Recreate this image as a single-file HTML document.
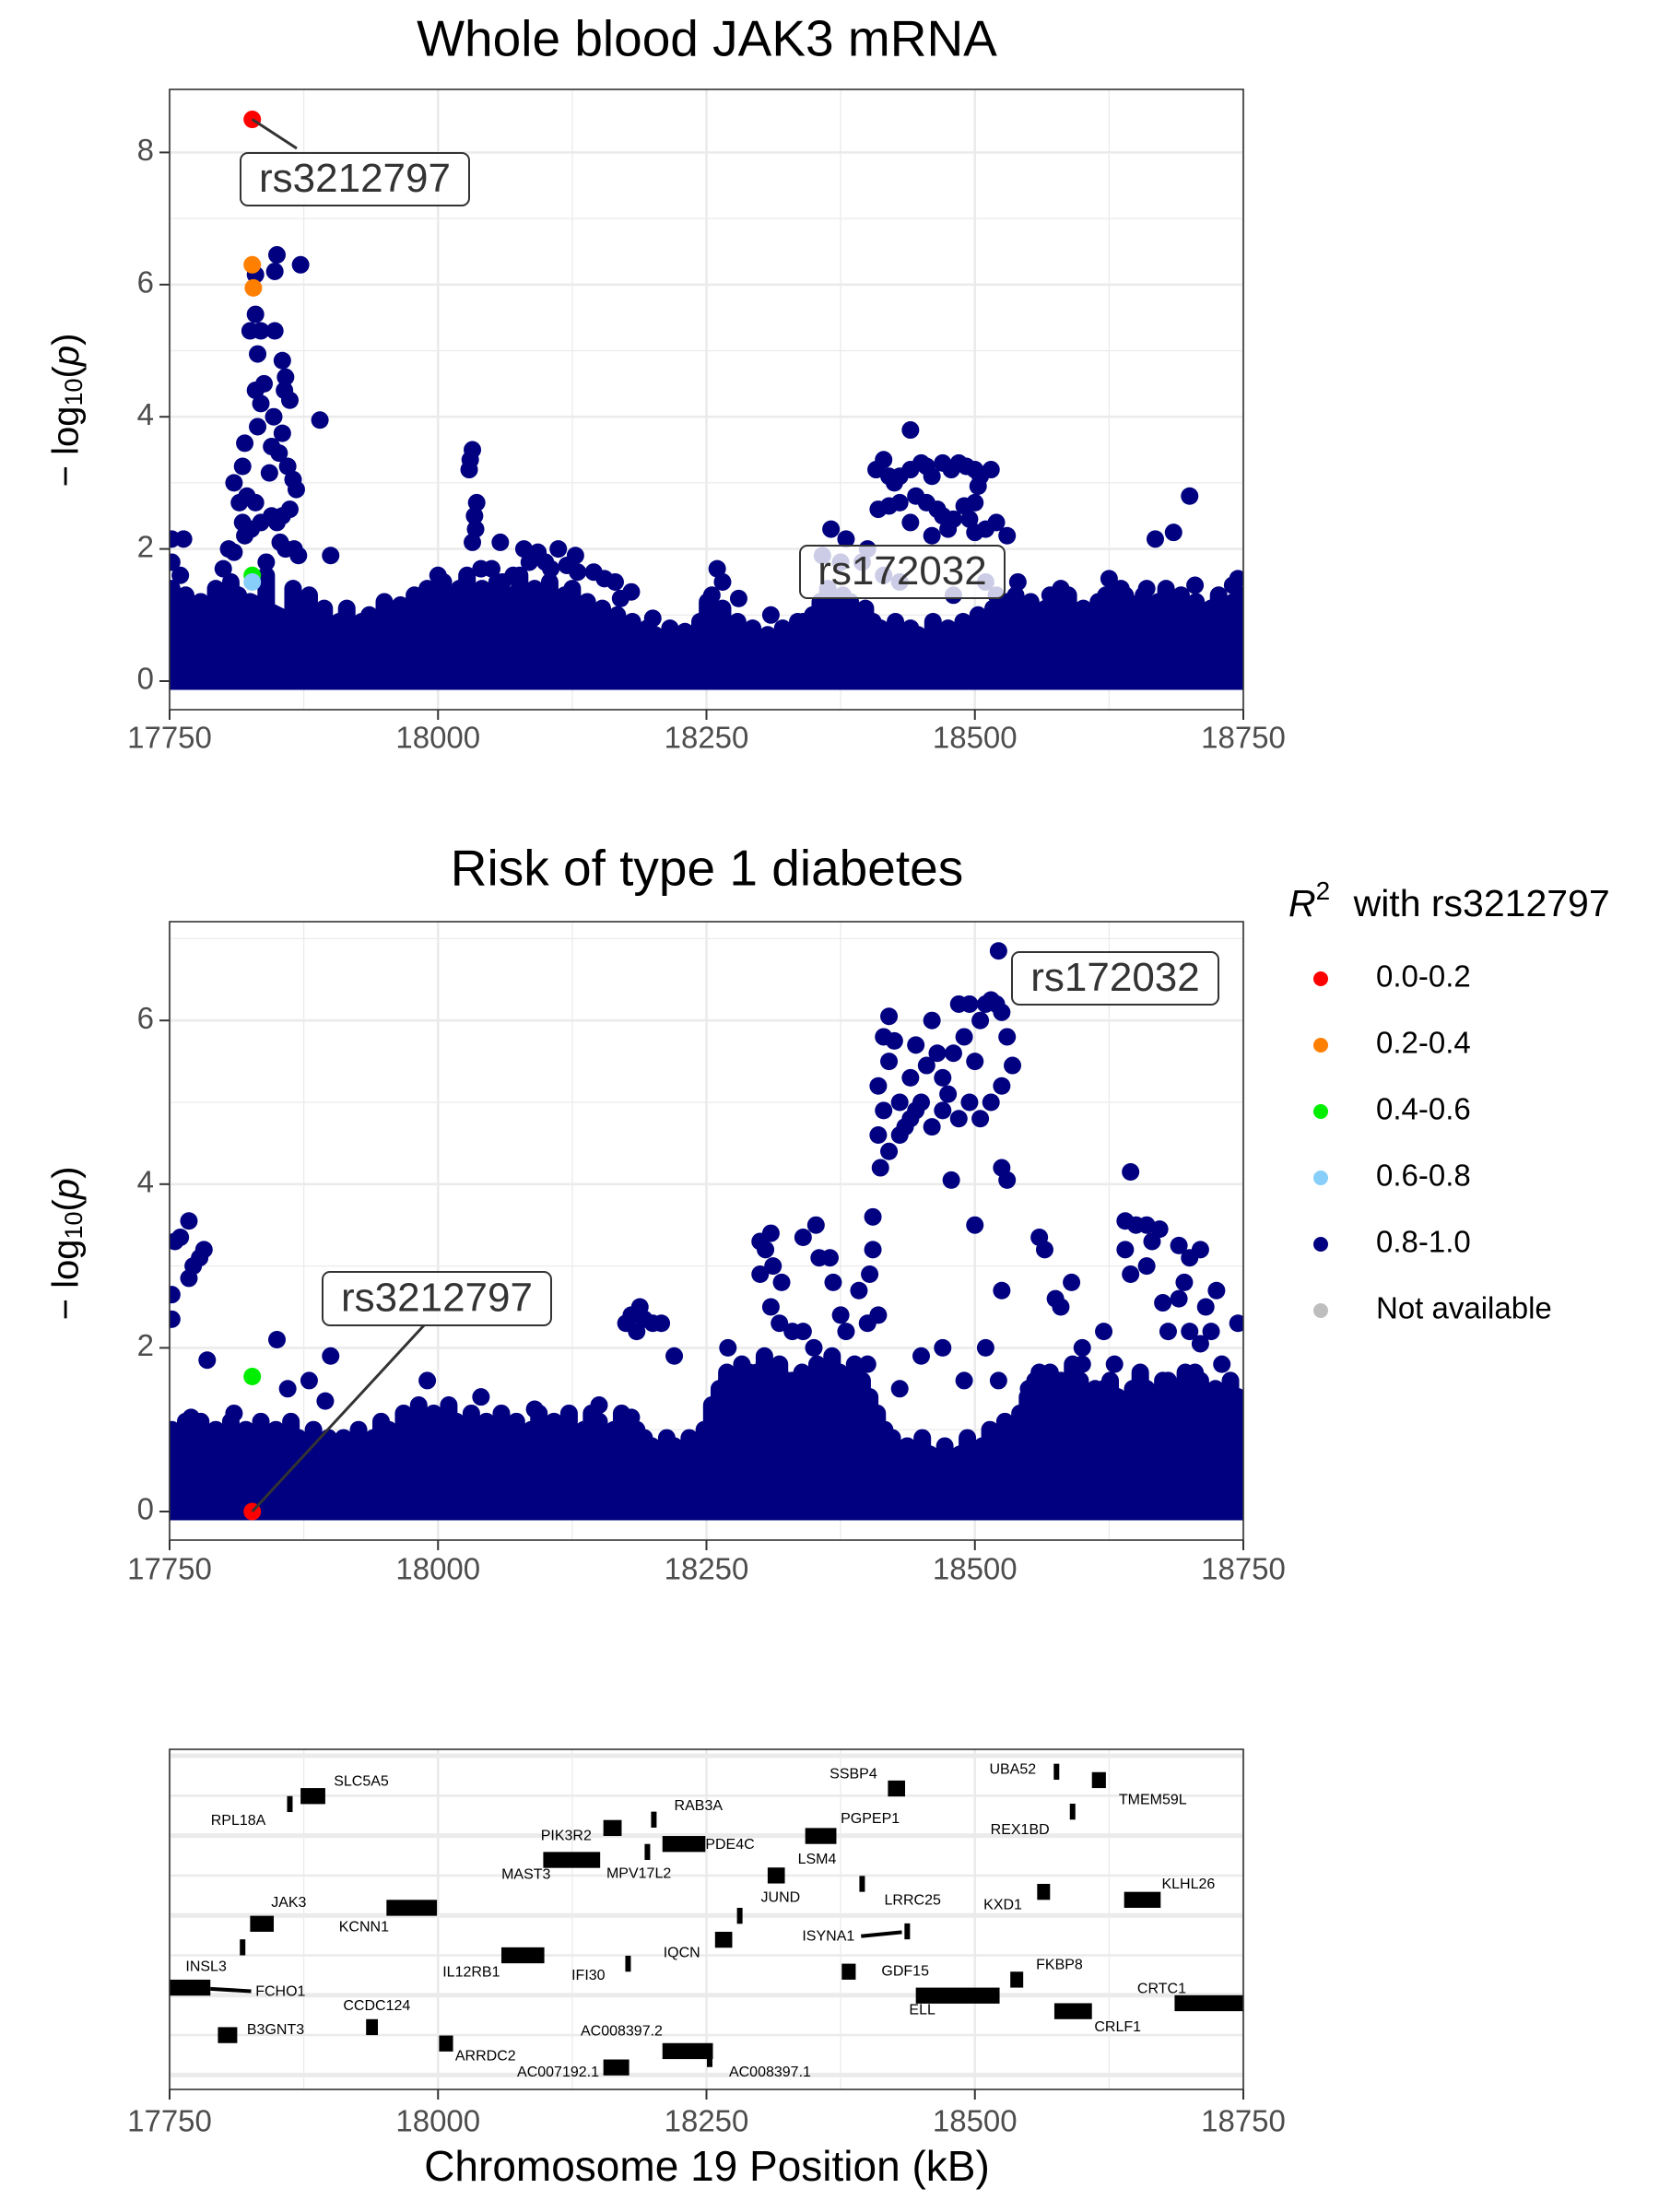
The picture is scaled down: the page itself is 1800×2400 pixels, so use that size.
<!DOCTYPE html>
<html><head><meta charset="utf-8"><style>
html,body{margin:0;padding:0;background:#fff}
svg{display:block;font-family:"Liberation Sans",sans-serif}
</style></head><body>
<svg id="fig" xmlns="http://www.w3.org/2000/svg" width="1800" height="2400" viewBox="0 0 1800 2400"></svg>
<script>
// ---------- DATA ----------
const xTicks=[17750,18000,18250,18500,18750];
const y1Ticks=[0,2,4,6,8];
const y2Ticks=[0,2,4,6];
const envBins=[17750,17775,17800,17825,17850,17875,17900,17925,17950,17975,18000,18025,18050,18075,18100,18125,18150,18175,18200,18225,18250,18275,18300,18325,18350,18375,18400,18425,18450,18475,18500,18525,18550,18575,18600,18625,18650,18675,18700,18725,18750];
const env1=[0.8,0.8,1.0,1.2,1.0,0.8,0.6,0.5,0.5,0.6,0.7,0.9,0.8,0.8,0.8,0.8,0.6,0.5,0.4,0.4,0.5,0.6,0.4,0.4,0.5,0.7,0.6,0.4,0.4,0.4,0.5,0.6,0.6,0.7,0.6,0.7,0.8,0.8,0.7,0.7,0.6];
const env2=[0.6,0.6,0.5,0.6,0.5,0.5,0.5,0.5,0.5,0.6,0.6,0.5,0.5,0.5,0.5,0.6,0.5,0.5,0.4,0.4,0.5,0.9,1.0,0.8,0.9,1.0,0.8,0.3,0.3,0.3,0.3,0.5,0.8,0.9,0.9,0.8,0.8,0.8,0.9,0.8,0.8];
// mid-band scattered SNPs (panel 1)
const b1x=[17752,17758,17765,17772,17779,17786,17793,17800,17807,17814,17840,17865,17872,17880,17887,17894,17901,17908,17915,17922,17929,17936,17943,17950,17957,17964,17971,17978,17985,17992,17999,18006,18013,18020,18027,18041,18048,18055,18062,18069,18076,18083,18090,18097,18104,18111,18118,18125,18132,18139,18146,18153,18160,18167,18174,18181,18188,18195,18202,18209,18216,18223,18230,18237,18244,18251,18258,18265,18272,18279,18286,18293,18300,18307,18314,18321,18328,18335,18342,18349,18356,18363,18370,18377,18384,18391,18398,18405,18412,18419,18426,18433,18440,18447,18454,18461,18468,18475,18482,18489,18496,18503,18510,18517,18524,18531,18538,18545,18552,18559,18566,18573,18580,18587,18594,18601,18608,18615,18622,18629,18636,18643,18650,18657,18664,18671,18678,18685,18692,18699,18706,18713,18720,18727,18734,18741,18748];
const b1y=[1.4,1.1,1.3,0.9,1.2,1.0,1.4,1.2,1.5,1.3,1.6,1.4,1.2,1.3,1.0,1.1,0.8,0.9,1.1,0.7,0.9,1.0,0.8,1.2,0.9,1.1,0.9,1.3,1.0,1.2,1.4,1.1,1.3,1.2,1.6,1.4,1.2,1.5,1.1,1.3,1.6,1.0,1.4,1.2,1.5,1.1,1.3,1.4,1.0,1.2,0.9,1.1,0.8,1.0,0.7,0.9,0.6,0.8,0.7,0.6,0.8,0.5,0.7,0.6,0.9,1.2,1.0,1.1,0.8,0.9,0.7,0.8,0.6,0.7,0.5,0.8,0.6,0.9,0.7,1.0,1.2,1.4,1.1,1.3,1.2,1.0,1.1,0.9,0.8,0.7,0.9,0.6,0.8,0.7,0.6,0.9,0.7,0.8,0.6,0.9,0.8,1.0,0.9,1.1,0.8,1.0,1.3,0.9,1.2,1.0,1.1,0.9,1.2,1.3,1.0,1.1,0.9,1.2,1.3,1.0,1.4,1.2,1.1,1.3,1.0,1.2,1.4,1.1,1.3,1.0,1.2,0.9,1.1,1.3,1.0,1.2,1.3];
const p1x=[17830,17850,17848,17872,17830,17835,17825,17848,17832,17855,17858,17857,17830,17838,17862,17890,17835,17847,17832,17855,17845,17820,17852,17860,17818,17843,17865,17868,17810,17815,17822,17830,17862,17845,17855,17850,17818,17826,17820,17835,17853,17858,17866,17870,17805,17810,17900,17763,17752,17752,17760,17800,17840,
18032,18030,18029,18036,18034,18035,18032,18058,18080,18093,18112,18100,18128,18145,18155,18130,18165,18170,18180,18040,18050,18060,18070,18085,18105,18120,17950,17965,17980,17990,18000,18005,18020,18200,18230,18260,18265,18255,18280,18310,18340,
18440,18415,18420,18408,18425,18430,18440,18450,18455,18460,18470,18478,18485,18492,18500,18505,18515,18503,18430,18420,18410,18445,18455,18465,18470,18490,18500,18480,18495,18510,18520,18530,18460,18440,18475,18500,18366,18380,18400,18358,18375,18395,18415,18430,18480,18510,18520,18530,18540,18550,18570,18580,18600,18620,18625,18630,18640,18652,18668,18685,18700,18705,18740,18745,18660,18680,18720];
const p1y=[6.15,6.45,6.2,6.3,5.55,5.3,5.3,5.3,4.95,4.85,4.6,4.4,4.4,4.5,4.25,3.95,4.2,4.0,3.85,3.75,3.55,3.6,3.45,3.25,3.25,3.15,3.05,2.9,3.0,2.7,2.8,2.7,2.6,2.5,2.5,2.4,2.4,2.3,2.2,2.4,2.1,2.0,2.0,1.9,2.0,1.95,1.9,2.15,2.15,1.8,1.6,1.7,1.8,
3.5,3.35,3.2,2.7,2.5,2.3,2.1,2.1,2.0,1.95,2.0,1.8,1.9,1.65,1.55,1.65,1.5,1.25,1.35,1.7,1.7,1.5,1.6,1.8,1.7,1.75,1.15,1.15,1.25,1.4,1.6,1.5,1.4,0.95,0.75,1.7,1.5,1.3,1.25,1.0,0.9,
3.8,3.35,3.1,3.2,3.0,3.1,3.2,3.3,3.25,3.1,3.3,3.2,3.3,3.25,3.2,3.1,3.2,2.95,2.7,2.65,2.6,2.8,2.7,2.6,2.5,2.65,2.7,2.45,2.45,2.3,2.4,2.2,2.2,2.4,2.3,2.25,2.3,2.15,2.0,1.9,1.8,1.8,1.6,1.5,1.3,1.5,1.3,1.2,1.5,1.0,1.3,1.4,1.0,1.2,1.55,1.4,1.3,1.1,2.15,2.25,2.8,1.45,1.45,1.55,1.4,1.2,1.1];
const c1x=[17827,17827,17827,17828,17827];
const c1y=[1.6,1.5,6.3,5.95,8.5];
const c1col=["#00ee00","#87cefa","#ff7f00","#ff7f00","#ff0000"];
// mid-band scattered SNPs (panel 2)
const b2x=[17752,17758,17765,17772,17779,17786,17793,17800,17807,17814,17821,17835,17842,17849,17856,17863,17870,17877,17884,17891,17898,17905,17912,17919,17926,17933,17940,17947,17954,17961,17968,17975,17982,17989,17996,18003,18010,18017,18024,18031,18038,18045,18052,18059,18066,18073,18080,18087,18094,18101,18108,18115,18122,18129,18136,18143,18150,18157,18164,18171,18178,18185,18192,18199,18206,18213,18220,18227,18234,18241,18248,18255,18262,18269,18276,18283,18290,18297,18304,18311,18318,18325,18332,18339,18346,18353,18360,18367,18374,18381,18388,18395,18402,18409,18416,18423,18430,18437,18444,18451,18458,18465,18472,18479,18486,18493,18500,18507,18514,18521,18528,18535,18542,18549,18556,18563,18570,18577,18584,18591,18598,18605,18612,18619,18626,18633,18640,18647,18654,18661,18668,18675,18682,18689,18696,18703,18710,18717,18724,18731,18738,18745];
const b2y=[1.0,0.8,1.1,0.9,1.1,0.8,1.0,0.9,1.1,0.8,1.0,1.1,0.9,1.0,0.8,1.1,0.9,0.7,1.0,0.8,0.9,0.7,0.9,0.8,1.0,0.8,0.9,1.1,1.0,0.8,1.2,1.0,1.3,1.1,1.2,1.0,1.3,1.1,0.9,1.2,1.0,1.1,0.9,1.2,1.0,1.1,0.9,1.0,1.2,0.9,1.1,1.0,1.2,0.9,1.0,1.2,1.1,0.9,1.0,1.2,0.8,1.0,0.9,0.8,0.7,0.9,0.8,0.7,0.9,0.8,1.0,1.3,1.5,1.7,1.4,1.8,1.6,1.7,1.9,1.5,1.8,1.6,1.4,1.7,1.5,1.8,1.6,1.9,1.7,1.5,1.8,1.6,1.4,1.2,1.0,0.9,0.7,0.8,0.6,0.9,0.7,0.5,0.8,0.6,0.7,0.9,0.6,0.8,1.0,0.7,1.1,0.9,1.2,1.4,1.6,1.3,1.7,1.5,1.4,1.8,1.6,1.3,1.5,1.2,1.6,1.4,1.3,1.5,1.7,1.2,1.4,1.6,1.3,1.5,1.7,1.4,1.6,1.2,1.5,1.3,1.6,1.4];
const p2x=[17755,17760,17768,17772,17768,17782,17778,17752,17752,17785,17850,17900,17895,17880,17860,17810,17770,17990,18040,18060,18090,18150,18180,
18175,18180,18188,18192,18200,18185,18208,18220,18270,18300,18305,18310,18300,18312,18320,18310,18318,18330,18340,18355,18352,18340,18350,18365,18368,18375,18380,18392,18400,18402,18405,18405,18410,18412,18410,18415,18410,18420,18415,18420,18425,18430,18435,18440,18445,18445,18455,18460,18465,18470,18475,18480,18485,18490,18495,18500,18505,18510,18515,18520,18522,18525,18530,18535,18525,18515,18505,18495,18485,18470,18460,18450,18440,18430,18420,18478,18500,18525,18525,18530,18522,18510,18490,18470,18450,18430,18400,18385,18360,18345,18330,18300,18290,18270,
18560,18565,18575,18580,18590,18600,18620,18630,18640,18645,18650,18660,18665,18672,18640,18660,18645,18690,18700,18710,18695,18690,18680,18700,18710,18720,18715,18725,18675,18705,18730,18745,18740,18720,18680,18660,18620,18600,18580,18560,18550];
const p2y=[3.3,3.35,3.55,3.0,2.85,3.2,3.1,2.65,2.35,1.85,2.1,1.9,1.35,1.6,1.5,1.2,1.15,1.6,1.4,1.1,1.25,1.3,1.15,
2.3,2.4,2.5,2.35,2.3,2.2,2.3,1.9,2.0,2.9,3.2,3.4,3.3,3.0,2.8,2.5,2.3,2.2,3.35,3.1,3.5,2.2,2.0,3.1,2.8,2.4,2.2,2.7,2.3,2.9,3.2,3.6,2.4,4.2,4.6,4.9,5.2,5.5,5.8,6.05,5.75,5.0,4.7,5.3,5.7,4.9,5.45,6.0,5.6,5.3,5.1,5.6,6.2,5.8,6.2,5.5,6.0,6.2,6.25,6.2,6.85,6.1,5.8,5.45,5.2,5.0,4.8,5.0,4.8,4.9,4.7,5.0,4.8,4.6,4.4,4.05,3.5,2.7,4.2,4.05,1.6,2.0,1.6,2.0,1.9,1.5,1.8,1.5,1.5,1.6,1.6,1.5,1.7,1.5,
3.35,3.2,2.6,2.5,2.8,2.0,2.2,1.8,3.55,4.15,3.5,3.5,3.3,3.45,3.2,3.0,2.9,3.25,3.1,3.2,2.8,2.6,2.2,2.2,2.05,2.2,2.5,2.7,2.55,1.7,1.8,2.3,1.4,1.3,1.6,1.5,1.5,1.8,1.6,1.7,1.5];
const c2x=[17827,17827];
const c2y=[1.65,0];
const c2col=["#00ee00","#ff0000"];
const legendLabels=["0.0-0.2","0.2-0.4","0.4-0.6","0.6-0.8","0.8-1.0","Not available"];
const legendColors=["#ff0000","#ff7f00","#00ee00","#87cefa","#000080","#bebebe"];
const geneNames=["SLC5A5","RPL18A","SSBP4","UBA52","TMEM59L","RAB3A","REX1BD","PIK3R2","PGPEP1","PDE4C","MPV17L2","MAST3","LSM4","LRRC25","KXD1","KLHL26","JUND","JAK3","KCNN1","ISYNA1","IQCN","INSL3","IL12RB1","IFI30","GDF15","FKBP8","FCHO1","ELL","CRTC1","CRLF1","CCDC124","B3GNT3","ARRDC2","AC008397.2","AC008397.1","AC007192.1"];
const geneStart=[17872,17862,18419,18576,18609,18201,18591,18154,18342,18209,18195,18098,18307,18395,18558,18639,18281,17825,17952,18437,18258,17818,18059,18177,18376,18533,17750,18445,18686,18574,17933,17795,18001,18209,18253,18154];
const geneEnd=[17895,17862,18435,18576,18622,18201,18591,18171,18371,18249,18195,18151,18323,18395,18570,18673,18281,17847,17999,18437,18274,17818,18099,18177,18389,18545,17788,18523,18750,18609,17944,17813,18014,18256,18253,18178];
const geneRow=[1.01,1.21,0.82,0.40,0.61,1.60,1.40,1.81,2.01,2.21,2.41,2.61,3.00,3.21,3.41,3.61,4.01,4.21,3.81,4.40,4.61,4.80,5.00,5.21,5.41,5.61,5.81,6.01,6.20,6.40,6.80,7.00,7.21,7.40,7.60,7.81];
const labelPos=[17903,17814,18409,18557,18634,18220,18542,18143,18375,18249,18187,18082,18353,18442,18526,18674,18319,17861,17931,18388,18227,17784,18031,18140,18413,18557,17830,18451,18674,18633,17943,17822,18016,18171,18271,18150];
const labelRow=[0.65,1.63,0.47,0.35,1.12,1.26,1.86,2.01,1.59,2.23,2.96,2.98,2.60,3.63,3.75,3.23,3.56,3.69,4.30,4.53,4.95,5.29,5.43,5.51,5.41,5.25,5.92,6.38,5.85,6.81,6.28,6.88,7.54,6.91,7.94,7.94];
const labelAnchor=["start","middle","end","end","start","start","middle","end","start","start","middle","middle","middle","middle","middle","start","middle","middle","middle","end","middle","middle","middle","middle","start","start","start","middle","middle","middle","middle","start","start","middle","start","end"];

// ---------- HELPERS ----------
const NS="http://www.w3.org/2000/svg";
const svg=document.getElementById('fig');
function mk(tag,attrs,parent){const e=document.createElementNS(NS,tag);for(const k in attrs)e.setAttribute(k,attrs[k]);(parent||svg).appendChild(e);return e;}
const L=184,R=1349;
function xs(v){return L+(v-17750)/1000*(R-L);}
function ys1(v){return 739-v*71.7;}
function ys2(v){return 1640-v*88.8;}
function ysG(r){return 1905+r*43.3;}

function panel(top,bottom,yTicks,ys,name,minorY){
  const g=mk('g',{});
  
  
  mk('rect',{x:L,y:top,width:R-L,height:bottom-top,fill:'#fff'},g);
  for(let i=0;i<xTicks.length-1;i++){const m=(xTicks[i]+xTicks[i+1])/2;mk('line',{x1:xs(m),x2:xs(m),y1:top,y2:bottom,stroke:'#ebebeb','stroke-width':1.3},g);}
  minorY.forEach(v=>{const y=ys(v);if(y>top&&y<bottom)mk('line',{x1:L,x2:R,y1:y,y2:y,stroke:'#ebebeb','stroke-width':1.3},g);});
  xTicks.forEach(v=>mk('line',{x1:xs(v),x2:xs(v),y1:top,y2:bottom,stroke:'#ebebeb','stroke-width':2.6},g));
  yTicks.forEach(v=>{const y=ys(v);mk('line',{x1:L,x2:R,y1:y,y2:y,stroke:'#ebebeb','stroke-width':2.6},g);});
  return g;
}
function frame(top,bottom,yTicks,ys,labelY,name){
  const g=mk('g',{});
  
  
  mk('rect',{x:L,y:top,width:R-L,height:bottom-top,fill:'none',stroke:'#333','stroke-width':1.6},g);
  xTicks.forEach(v=>{mk('line',{x1:xs(v),x2:xs(v),y1:bottom,y2:bottom+11,stroke:'#333','stroke-width':2},g);
    const t=mk('text',{x:xs(v),y:labelY,'text-anchor':'middle','font-size':33,fill:'#4d4d4d','dominant-baseline':'middle'},g);t.textContent=v;
    
    });
  yTicks.forEach(v=>{const y=ys(v);mk('line',{x1:L-11,x2:L,y1:y,y2:y,stroke:'#333','stroke-width':2},g);
    const t=mk('text',{x:L-17,y:y,'text-anchor':'end','font-size':33,fill:'#4d4d4d','dominant-baseline':'middle'},g);t.textContent=v;
    
    });
}
function envelope(env,ys,parent){
  let d='M'+xs(envBins[0])+','+ys(0);
  envBins.forEach((b,i)=>{d+=' L'+xs(b)+','+ys(env[i]);});
  d+=' L'+xs(envBins[envBins.length-1])+','+ys(0)+' Z';
  const p=mk('path',{d:d,fill:'#000080',stroke:'#000080','stroke-width':19,'stroke-linejoin':'round'},parent);
  
  
}
function points(xa,ya,cols,ys,parent,nm){
  xa.forEach((x,i)=>{const c=mk('circle',{cx:xs(x),cy:ys(ya[i]),r:9.5,fill:cols?cols[i]:'#000080'},parent);
    
    });
}
function stems(xa,ya,ys,parent){
  // vertical runs of overlapping SNPs from the dense cloud up to each mid-band point
  xa.forEach((x,i)=>{const l=mk('line',{x1:xs(x),x2:xs(x),y1:ys(0),y2:ys(ya[i]),stroke:'#000080','stroke-width':19,'stroke-linecap':'round'},parent);
    
    });
}
function labelBox(x,y,w,h,text,parent,nm,lx1,ly1,lx2,ly2){
  mk('line',{x1:lx1,y1:ly1,x2:lx2,y2:ly2,stroke:'#333','stroke-width':3},parent);
  const g=mk('g',{},parent);
  
  
  mk('rect',{x:x,y:y,width:w,height:h,rx:8,fill:'rgba(255,255,255,0.8)',stroke:'#333','stroke-width':2},g);
  const t=mk('text',{x:x+w/2,y:y+h/2+2,'text-anchor':'middle','dominant-baseline':'middle','font-size':44,fill:'#333'},g);t.textContent=text;
}
function yTitle(cx,cy,name){
  const t=mk('text',{transform:`translate(${cx},${cy}) rotate(-90)`,'text-anchor':'middle','font-size':40,fill:'#000','dominant-baseline':'middle'});
  
  
  t.innerHTML='− log<tspan font-size="27" dy="8">10</tspan><tspan dy="-8">(</tspan><tspan font-style="italic">p</tspan>)';
}
function title(x,y,s,name){const t=mk('text',{x:x,y:y,'text-anchor':'middle','dominant-baseline':'middle','font-size':55,fill:'#000'});t.textContent=s;
  
  }

// ---------- PANEL 1 ----------
title(767,46,'Whole blood JAK3 mRNA','panel1-title');
panel(97,770,y1Ticks,ys1,'panel1-plot-area',[1,3,5,7]);
const clip1=mk('clipPath',{id:'c1'});mk('rect',{x:L,y:97,width:R-L,height:673},clip1);
const d1=mk('g',{'clip-path':'url(#c1)'});
envelope(env1,ys1,d1);
stems(b1x,b1y,ys1,d1);
points(p1x,p1y,null,ys1,d1,'snp-point');
points(c1x,c1y,c1col,ys1,d1,'snp-point-colored');
labelBox(261,166,248,57,'rs3212797',svg,'label-rs3212797-panel1',xs(17827),ys1(8.5),322,161);
labelBox(868,592,222,57,'rs172032',svg,'label-rs172032-panel1',950,600,950,600);
frame(97,770,y1Ticks,ys1,803,'panel1-axes');
yTitle(74,445,'panel1-y-axis-title');

// ---------- PANEL 2 ----------
title(767,946,'Risk of type 1 diabetes','panel2-title');
panel(1000,1671,y2Ticks,ys2,'panel2-plot-area',[1,3,5,7]);
const clip2=mk('clipPath',{id:'c2'});mk('rect',{x:L,y:1000,width:R-L,height:671},clip2);
const d2=mk('g',{'clip-path':'url(#c2)'});
envelope(env2,ys2,d2);
stems(b2x,b2y,ys2,d2);
points(p2x,p2y,null,ys2,d2,'snp-point');
points(c2x,c2y,c2col,ys2,d2,'snp-point-colored');
labelBox(1098,1033,224,57,'rs172032',svg,'label-rs172032-panel2',1098,1060,1098,1060);
labelBox(350,1380,248,58,'rs3212797',svg,'label-rs3212797-panel2',xs(17827),ys2(0),460,1438);
frame(1000,1671,y2Ticks,ys2,1705,'panel2-axes');
yTitle(74,1349,'panel2-y-axis-title');

// ---------- LEGEND ----------
const lg=mk('g',{});


const lt=mk('text',{x:1398,y:983,'font-size':41,fill:'#000','dominant-baseline':'middle'},lg);
lt.innerHTML='<tspan font-style="italic">R</tspan><tspan font-size="28" dy="-14">2</tspan><tspan dy="14" dx="14">  with rs3212797</tspan>';
legendLabels.forEach((s,i)=>{const y=1062+i*72;
  const e=mk('g',{},lg);
  
  
  mk('circle',{cx:1433,cy:y,r:8,fill:legendColors[i]},e);
  const t=mk('text',{x:1493,y:y,'font-size':33,fill:'#000','dominant-baseline':'middle'},e);t.textContent=s;});

// ---------- GENE TRACK ----------
const GT=1898,GB=2267;
const g3=mk('g',{});


mk('rect',{x:L,y:GT,width:R-L,height:GB-GT,fill:'#fff'},g3);
for(let i=0;i<xTicks.length-1;i++){const m=(xTicks[i]+xTicks[i+1])/2;mk('line',{x1:xs(m),x2:xs(m),y1:GT,y2:GB,stroke:'#ebebeb','stroke-width':1.3},g3);}
xTicks.forEach(v=>mk('line',{x1:xs(v),x2:xs(v),y1:GT,y2:GB,stroke:'#ebebeb','stroke-width':2.6},g3));
for(let r=0;r<=8;r++)mk('line',{x1:L,x2:R,y1:ysG(r),y2:ysG(r),stroke:'#ebebeb','stroke-width':r%2===0?5:2.6},g3);
const clip3=mk('clipPath',{id:'c3'});mk('rect',{x:L,y:GT,width:R-L,height:GB-GT},clip3);
const gg=mk('g',{'clip-path':'url(#c3)'},g3);
mk('line',{x1:xs(17788),y1:ysG(5.84),x2:xs(17826),y2:ysG(5.90),stroke:'#000','stroke-width':4},gg);
mk('line',{x1:xs(18394),y1:ysG(4.52),x2:xs(18432),y2:ysG(4.42),stroke:'#000','stroke-width':4},gg);
geneNames.forEach((n,i)=>{
  let x1=xs(geneStart[i]),x2=xs(geneEnd[i]);
  if(x2-x1<6){const c=(x1+x2)/2;x1=c-3;x2=c+3;}
  const r=mk('rect',{x:x1,y:ysG(geneRow[i]-0.2),width:x2-x1,height:43.3*0.4,fill:'#000'},gg);
  
  
  const t=mk('text',{x:xs(labelPos[i]),y:ysG(labelRow[i]),'text-anchor':labelAnchor[i],'dominant-baseline':'middle','font-size':16,fill:'#000'},g3);
  t.textContent=n;
  
  
});
frame(GT,GB,[],ysG,2304,'gene-track-axes');
const xt=mk('text',{x:767,y:2354,'text-anchor':'middle','dominant-baseline':'middle','font-size':46,fill:'#000'});
xt.textContent='Chromosome 19 Position (kB)';


</script>
</body></html>
